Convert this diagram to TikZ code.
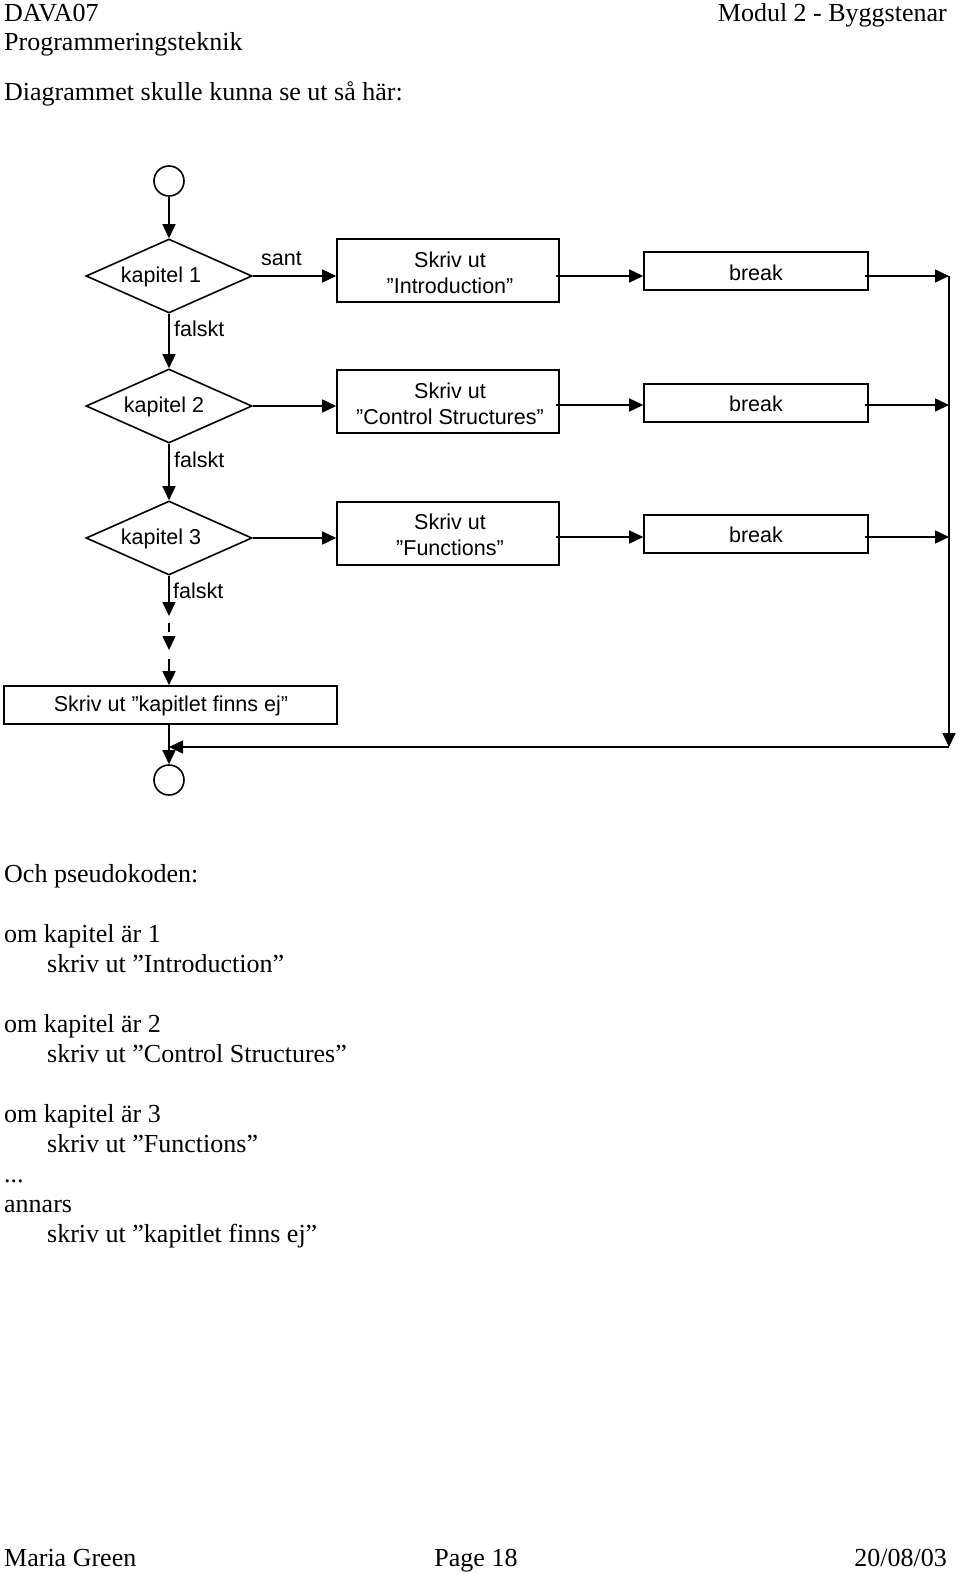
\documentclass[tikz,border=0pt]{standalone}
\usepackage{fontspec}
\setmainfont{Liberation Serif}
\newfontfamily\arialf{Liberation Sans}
\usetikzlibrary{arrows.meta,shapes.geometric}
\begin{document}
\begin{tikzpicture}[x=1pt,y=-1pt,
  serif/.style={anchor=base west,inner sep=0pt,font=\fontsize{26}{30}\selectfont},
  sans/.style={inner sep=0pt,font=\arialf\fontsize{21.5}{26}\selectfont},
  flowline/.style={line width=1.6pt},
  arr/.style={flowline,-{Triangle[length=14pt,width=13pt]}},
  dec/.style={diamond,draw,line width=1.6pt,minimum width=166pt,minimum height=74pt,inner sep=0pt},
  procbox/.style={draw,line width=1.6pt,minimum width=222pt,minimum height=63pt,inner sep=0pt},
  brkbox/.style={draw,line width=1.6pt,minimum width=224pt,minimum height=38pt,inner sep=0pt},
  term/.style={circle,draw,line width=1.6pt,minimum size=30pt,inner sep=0pt}
]
\useasboundingbox (0,0) rectangle (960,1574);
\fill[white] (0,0) rectangle (960,1574);

% header
\node[serif] (h1) at (4,21) {DAVA07};
\node[serif] (h2) at (4,50) {Programmeringsteknik};
\node[serif,anchor=base east] (h3) at (947,21) {Modul 2 - Byggstenar};
\node[serif] (h4) at (4,100) {Diagrammet skulle kunna se ut så här:};

% flowchart nodes
\node[term] (start) at (169,181) {};
\node[dec] (d1) at (169,276) {};
\node[dec] (d2) at (169,406) {};
\node[dec] (d3) at (169,538) {};
\node[sans] (t1) at (161,277) {kapitel 1};
\node[sans] (t2) at (164,407) {kapitel 2};
\node[sans] (t3) at (161,539) {kapitel 3};

\node[procbox] (p1) at (448,270.5) {};
\node[procbox] (p2) at (448,401.5) {};
\node[procbox] (p3) at (448,533.5) {};
\node[sans,align=center] (pt1) at (450,273) {Skriv ut\\”Introduction”};
\node[sans,align=center] (pt2) at (450,404) {Skriv ut\\”Control Structures”};
\node[sans,align=center] (pt3) at (450,535) {Skriv ut\\”Functions”};

\node[brkbox] (b1) at (756,271) {};
\node[brkbox] (b2) at (756,403) {};
\node[brkbox] (b3) at (756,534) {};
\node[sans] (bt1) at (756,273) {break};
\node[sans] (bt2) at (756,404) {break};
\node[sans] (bt3) at (756,535) {break};

\node[draw,line width=1.6pt,minimum width=333pt,minimum height=38pt,inner sep=0pt] (else) at (170.5,705) {};
\node[sans] (elset) at (171,706) {Skriv ut ”kapitlet finns ej”};
\node[term] (stop) at (169,780) {};

\node[sans,anchor=west] (sant) at (261,259) {sant};
\node[sans,anchor=west] (f1) at (174,329) {falskt};
\node[sans,anchor=west] (f2) at (174,460) {falskt};
\node[sans,anchor=west] (f3) at (173,591) {falskt};

% helper coordinates
\coordinate (r1) at (949,276);
\coordinate (r2) at (949,405);
\coordinate (r3) at (949,537);
\coordinate (rb) at (949,747);
\coordinate (lb) at (169,747);
\coordinate (g1) at (169,616);
\coordinate (g2a) at (169,623);
\coordinate (g2b) at (169,650);
\coordinate (g3) at (169,659);

% connectors
\draw[arr] (start.south) -- (d1.north);
\draw[arr] (d1.east) -- (d1.east -| p1.west);
\draw[arr] (d2.east) -- (d2.east -| p2.west);
\draw[arr] (d3.east) -- (d3.east -| p3.west);
\draw[arr] (d1.south) -- (d2.north);
\draw[arr] (d2.south) -- (d3.north);
\draw[arr] (d3.south -| g1) -- (g1);
\draw[arr,dash pattern=on 9pt off 5pt] (g2a) -- (g2b);
\draw[arr] (g3) -- (else.north -| g3);
\draw[arr] (else.south -| stop) -- (stop.north);

\draw[arr] ([xshift=-4pt]p1.east |- r1) -- (b1.west |- r1);
\draw[arr] ([xshift=-4pt]p2.east |- r2) -- (b2.west |- r2);
\draw[arr] ([xshift=-4pt]p3.east |- r3) -- (b3.west |- r3);
\draw[arr] ([xshift=-4pt]b1.east |- r1) -- (r1);
\draw[arr] ([xshift=-4pt]b2.east |- r2) -- (r2);
\draw[arr] ([xshift=-4pt]b3.east |- r3) -- (r3);
\draw[arr] (r1) -- (rb);
\draw[arr] (rb) -- (lb);

% pseudocode
\node[serif] (c0) at (4,882) {Och pseudokoden:};
\node[serif] (c1) at (4,942) {om kapitel är 1};
\node[serif] (c2) at (47,972) {skriv ut ”Introduction”};
\node[serif] (c3) at (4,1032) {om kapitel är 2};
\node[serif] (c4) at (47,1062) {skriv ut ”Control Structures”};
\node[serif] (c5) at (4,1122) {om kapitel är 3};
\node[serif] (c6) at (47,1152) {skriv ut ”Functions”};
\node[serif] (c7) at (4,1182) {...};
\node[serif] (c8) at (4,1212) {annars};
\node[serif] (c9) at (47,1242) {skriv ut ”kapitlet finns ej”};

% footer
\node[serif] (ft1) at (4,1566) {Maria Green};
\node[serif,anchor=base] (ft2) at (476,1566) {Page 18};
\node[serif,anchor=base east] (ft3) at (947,1566) {20/08/03};
\end{tikzpicture}
\end{document}
